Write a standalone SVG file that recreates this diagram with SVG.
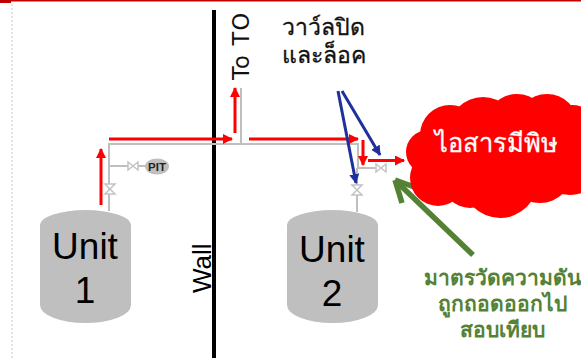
<svg xmlns="http://www.w3.org/2000/svg" width="581" height="358" viewBox="0 0 581 358">
<style>
text{font-family:"Liberation Sans","Noto Sans",sans-serif}
.pipe{fill:none;stroke:#bfbfbf;stroke-width:2}
.red{stroke:#f00;stroke-width:3;fill:none}
.blue{stroke:#1f2f9c;stroke-width:3;fill:none}
.valve{fill:#fff;stroke:#c4c4c4;stroke-width:1.5}
.unit{fill:#bfbfbf}
.ut{font-size:37px;fill:#000;text-anchor:middle}
.th{font-size:23px;fill:#111;stroke:#111;stroke-width:.3}
.gr{font-size:21px;font-weight:700;fill:#548235;text-anchor:middle}
</style>
<defs>
<marker id="rh" markerUnits="userSpaceOnUse" markerWidth="12" markerHeight="12" refX="9" refY="5" orient="auto"><path d="M0 0L10 5L0 10Z" fill="#f00"/></marker>
<marker id="bh" markerUnits="userSpaceOnUse" markerWidth="12" markerHeight="12" refX="9" refY="5" orient="auto"><path d="M0 0L10 5L0 10Z" fill="#1f2f9c"/></marker>
</defs>
<rect width="581" height="358" fill="#fff"/>
<rect x="0" y="0" width="581" height="1.500" fill="#c00000"/>
<rect x="0" y="0" width="11" height="3" fill="#c00000"/>
<path d="M12 4V358" stroke="#c8c8c8" stroke-width="1" stroke-dasharray="2 2" fill="none"/>
<g id="wall"><path d="M214 10V358" stroke="#000" stroke-width="4"/><text transform="translate(211 293) rotate(-90)" font-size="26" fill="#000">Wall</text></g>
<g id="connectors">
<path class="pipe" d="M109 211V144H358V168H375M357 168V212M241 144V88M109 166H128M138 166H147"/>
<path class="red" marker-end="url(#rh)" d="M101 205V149"/>
<path class="red" marker-end="url(#rh)" d="M109 139H232"/>
<path class="red" marker-end="url(#rh)" d="M235 133V88"/>
<path class="red" marker-end="url(#rh)" d="M249 139H358"/>
<path class="red" marker-end="url(#rh)" d="M363 140V165"/>
<path class="red" marker-end="url(#rh)" d="M368 160.500H404"/>
<path class="blue" marker-end="url(#bh)" d="M338 91L356 183"/>
<path class="blue" marker-end="url(#bh)" d="M342 91L380 155"/>
<path d="M473 255L399 184" stroke="#548235" stroke-width="5.500" fill="none"/>
<path d="M395 180L417 188M395 180L402 203" stroke="#548235" stroke-width="5.500" fill="none"/>
</g>
<g id="valve-1"><path class="valve" d="M105 184H115L105 194H115Z"/></g>
<g id="valve-pit"><path class="valve" d="M128 162V170L138 162V170Z"/></g>
<g id="valve-2"><path class="valve" d="M352 185H362L352 195H362Z"/></g>
<g id="valve-3"><path class="valve" d="M376 164V172L386 164V172Z"/></g>
<g id="pit"><ellipse cx="157" cy="166.500" rx="12" ry="8" fill="#bfbfbf"/><text x="157" y="171" font-size="11.500" font-weight="700" fill="#222" text-anchor="middle">PIT</text></g>
<g id="unit-1"><path class="unit" d="M40 225A45.500 15 0 0 1 131 225V305A45.500 18 0 0 1 40 305Z"/><text class="ut" x="85" y="259">Unit</text><text class="ut" x="85" y="303">1</text></g>
<g id="unit-2"><path class="unit" d="M287 225A45.500 15 0 0 1 378 225V305A45.500 18 0 0 1 287 305Z"/><text class="ut" x="332" y="262">Unit</text><text class="ut" x="332" y="306">2</text></g>
<g id="to-to"><text transform="translate(249 80) rotate(-90)" font-size="22.500" fill="#111" letter-spacing="1.200" style="font-family:'DejaVu Sans',sans-serif">To TO</text></g>
<g id="valve-label"><text class="th" x="282" y="35">วาว์ลปิด</text><text class="th" x="282" y="63">และล็อค</text></g>
<g id="cloud" fill="#f00">
<circle cx="450" cy="135" r="30"/><circle cx="483" cy="132" r="35"/><circle cx="517" cy="125" r="31"/><circle cx="547" cy="125" r="31"/><circle cx="572" cy="135" r="30"/><circle cx="428" cy="152" r="22"/><circle cx="438" cy="178" r="28"/><circle cx="470" cy="180" r="28"/><circle cx="500" cy="180" r="38"/><circle cx="540" cy="170" r="33"/><circle cx="570" cy="160" r="35"/><rect x="440" y="120" width="141" height="60"/>
<text x="496" y="152" font-size="25.500" fill="#fff" stroke="#fff" stroke-width=".3" text-anchor="middle">ไอสารมีพิษ</text>
</g>
<g id="note"><text class="gr" x="502" y="285">มาตรวัดความดัน</text><text class="gr" x="502" y="311">ถูกถอดออกไป</text><text class="gr" x="502" y="337">สอบเทียบ</text></g>
</svg>
